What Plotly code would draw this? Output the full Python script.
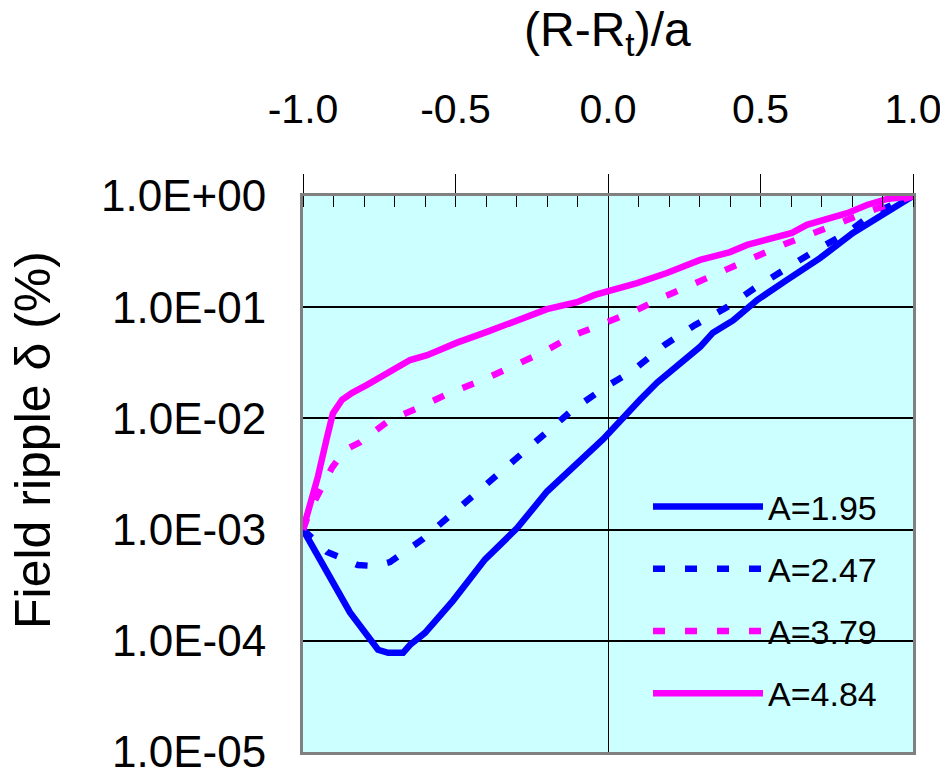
import plotly.graph_objects as go

# ---- data ----
x_195 = [-1.0, -0.846, -0.754, -0.721, -0.672, -0.649, -0.60, -0.508, -0.403, -0.298, -0.20,
         -0.016, 0.105, 0.161, 0.302, 0.344, 0.41, 0.489, 0.587, 0.695, 0.803, 1.0]
y_195 = [1.0e-3, 1.8e-4, 8.3e-5, 7.8e-5, 7.8e-5, 9.2e-5, 1.18e-4, 2.3e-4, 5.4e-4, 1.03e-3, 2.2e-3,
         6.5e-3, 1.47e-2, 2.1e-2, 4.4e-2, 5.9e-2, 7.6e-2, 0.116, 0.176, 0.276, 0.465, 1.0]

x_247 = [-1.0, -0.921, -0.82, -0.764, -0.715, -0.61, -0.508, -0.41, -0.311, -0.23, -0.115,
         -0.01, 0.082, 0.187, 0.285, 0.39, 0.482, 0.587, 0.685, 0.784, 0.869, 1.0]
y_247 = [1.0e-3, 6.3e-4, 4.8e-4, 4.7e-4, 5.1e-4, 8.1e-4, 1.41e-3, 2.4e-3, 4.2e-3, 6.4e-3, 1.2e-2,
         1.9e-2, 2.7e-2, 4.6e-2, 6.9e-2, 0.10, 0.149, 0.225, 0.33, 0.465, 0.70, 1.0]

x_379 = [-1.0, -0.977, -0.905, -0.862, -0.813, -0.715, -0.623, -0.518, -0.413, -0.315, -0.216,
         -0.118, -0.016, 0.082, 0.18, 0.285, 0.384, 0.475, 0.58, 0.679, 0.784, 0.869, 1.0]
y_379 = [1.0e-3, 1.5e-3, 3.6e-3, 5.2e-3, 6.1e-3, 9.7e-3, 1.24e-2, 1.7e-2, 2.2e-2, 2.9e-2, 3.9e-2,
         5.5e-2, 7.1e-2, 9.1e-2, 0.123, 0.165, 0.216, 0.271, 0.37, 0.47, 0.61, 0.75, 1.0]

x_484 = [-1.0, -0.977, -0.951, -0.921, -0.902, -0.872, -0.839, -0.79, -0.715, -0.649, -0.593,
         -0.495, -0.397, -0.298, -0.20, -0.102, -0.043, 0.095, 0.193, 0.302, 0.40, 0.456,
         0.603, 0.652, 0.784, 0.849, 0.915, 1.0]
y_484 = [1.0e-3, 1.6e-3, 3.0e-3, 6.8e-3, 1.11e-2, 1.47e-2, 1.7e-2, 2.0e-2, 2.6e-2, 3.35e-2, 3.7e-2,
         4.8e-2, 6.0e-2, 7.7e-2, 9.6e-2, 0.111, 0.129, 0.165, 0.203, 0.266, 0.313, 0.363,
         0.465, 0.55, 0.70, 0.83, 0.94, 1.0]

series_names = ["A=1.95", "A=2.47", "A=3.79", "A=4.84"]

x_tickvals = [-1.0, -0.5, 0.0, 0.5, 1.0]
x_ticktext = ["-1.0", "-0.5", "0.0", "0.5", "1.0"]
y_tickvals = [1, 1e-1, 1e-2, 1e-3, 1e-4, 1e-5]
y_ticktext = ["1.0E+00", "1.0E-01", "1.0E-02", "1.0E-03", "1.0E-04", "1.0E-05"]

BLUE = "#0000FF"
MAGENTA = "#FF00FF"
SANS = "Liberation Sans, Arial, sans-serif"

fig = go.Figure()
styles = [
    (x_195, y_195, BLUE, "solid"),
    (x_247, y_247, BLUE, "12px,20px"),
    (x_379, y_379, MAGENTA, "12px,20px"),
    (x_484, y_484, MAGENTA, "solid"),
]
for i, (name, (xs, ys, col, dash)) in enumerate(zip(series_names, styles)):
    fig.add_trace(go.Scatter(x=xs, y=ys, mode="lines", name=name, legendgroup=f"g{i}",
                             line=dict(color=col, width=6.5, dash=dash)))

# The page body adds an 8px offset, so the figure is 8px smaller than the window.
fig.update_layout(
    width=940, height=766,
    margin=dict(l=295, r=35, t=188, b=22, autoexpand=False),
    paper_bgcolor="white",
    plot_bgcolor="#CCFFFF",
    showlegend=True,
    legend=dict(x=(648 - 303) / 610, xanchor="left", y=(752 - 478) / 556, yanchor="top",
                bgcolor="rgba(0,0,0,0)", font=dict(family=SANS, size=34, color="black"),
                itemwidth=110, traceorder="grouped", tracegroupgap=15),
    xaxis=dict(
        side="top", range=[-1, 1], tickmode="array", tickvals=x_tickvals, ticktext=x_ticktext,
        ticks="outside", ticklen=19, tickcolor="black", tickwidth=1,
        ticklabelstandoff=35, ticklabeloverflow="allow", automargin=False,
        tickfont=dict(family=SANS, size=41, color="black"),
        showline=True, linecolor="#808080", linewidth=3, mirror=True,
        showgrid=False, zeroline=True, zerolinecolor="black", zerolinewidth=1,
        minor=dict(ticks="inside", dtick=0.1, tick0=0, ticklen=11, tickcolor="black", tickwidth=1, showgrid=False),
    ),
    yaxis=dict(
        type="log", range=[-5, 0], tickmode="array", tickvals=y_tickvals, ticktext=y_ticktext,
        ticks="", ticklabelstandoff=25, ticklabeloverflow="allow", automargin=False,
        tickfont=dict(family=SANS, size=44, color="black"),
        showline=True, linecolor="#808080", linewidth=3, mirror=True,
        showgrid=True, gridcolor="black", gridwidth=1.5, zeroline=False,
    ),
    yaxis2=dict(
        type="log", range=[-5, 0], overlaying="y", side="right", anchor="x", automargin=False,
        tickmode="array", tickvals=y_tickvals, ticks="inside", ticklen=6, tickcolor="black",
        showticklabels=False, showgrid=False, showline=False, zeroline=False,
    ),
    yaxis3=dict(
        type="log", range=[-5, 0], overlaying="y", anchor="free", position=0.5, automargin=False,
        tickmode="array", tickvals=y_tickvals, ticks="inside", ticklen=14, tickcolor="black",
        showticklabels=False, showgrid=False, showline=False, zeroline=False,
    ),
    annotations=[
        dict(text="(R-R<sub>t</sub>)/a", xref="paper", yref="paper",
             x=(607 - 303) / 610, y=(752 - 33) / 556, xanchor="center", yanchor="middle",
             showarrow=False, font=dict(family=SANS, size=48, color="black")),
        dict(text="Field ripple δ (%)", xref="paper", yref="paper",
             x=(33 - 303) / 610, y=(752 - 440) / 556, xanchor="center", yanchor="middle",
             textangle=-90, showarrow=False, font=dict(family=SANS, size=50, color="black")),
    ],
)

fig.write_html("out.html")
